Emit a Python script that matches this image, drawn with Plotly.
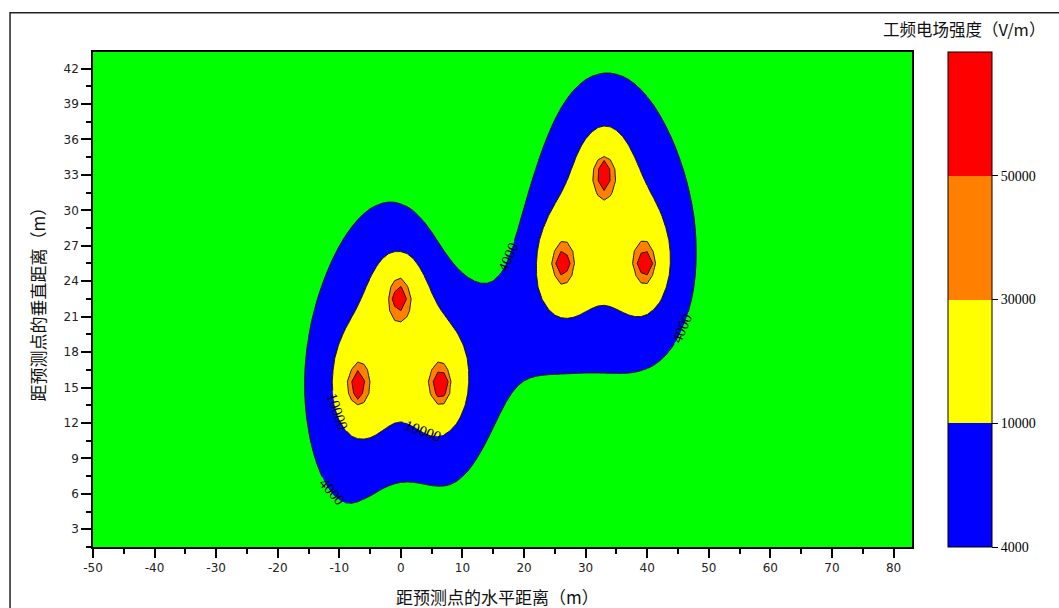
import numpy as np
import plotly.graph_objects as go

# Conductor positions (m) and phase angles (deg) of the two three-phase circuits
conductor_x = [-7.0, -0.2, 6.5, 26.2, 33.0, 39.7]
conductor_y = [15.2, 22.6, 15.2, 25.5, 33.0, 25.5]
conductor_phase = [0, 120, -120, 60, 180, -60]
line_strength = 51000.0   # field strength (V/m) at 1 m from a single conductor

# Contour levels of the power-frequency electric field (V/m)
levels = [4000, 10000, 30000, 50000]
level_labels = ["4000", "10000", "30000", "50000"]
band_colors = ["#0000FF", "#FFFF00", "#FF8000", "#FF0000"]
background_color = "#00FF00"
labelled_levels = [4000, 10000]

x_ticks = [-50, -40, -30, -20, -10, 0, 10, 20, 30, 40, 50, 60, 70, 80]
y_ticks = [3, 6, 9, 12, 15, 18, 21, 24, 27, 30, 33, 36, 39, 42]

# Calculation grid (m); label strips split the grid along x
x_grid = np.arange(-50.0, 83.01, 1.0)
y_grid = np.arange(1.5, 43.51, 1.0)
label_strips = [-50, -5, 12, 27, 40, 83]

X, Y = np.meshgrid(x_grid, y_grid)

# Phasor sum of the line-charge fields, with ground images at y = -h
Ex = np.zeros(X.shape, dtype=complex)
Ey = np.zeros(X.shape, dtype=complex)
for cx, cy, ph in zip(conductor_x, conductor_y, conductor_phase):
    q = line_strength * np.exp(1j * np.deg2rad(ph))
    for sy, sign in ((cy, 1.0), (-cy, -1.0)):
        dx = X - cx
        dy = Y - sy
        r2 = np.maximum(dx * dx + dy * dy, 0.09)
        Ex += sign * q * dx / r2
        Ey += sign * q * dy / r2
field = np.sqrt(np.abs(Ex) ** 2 + np.abs(Ey) ** 2)

line_color = "#141414"
label_font = dict(family="Liberation Serif", size=15, color="black")
fig = go.Figure()

# One filled contour per level, stacked so higher bands sit on top
for lev, col in zip(levels, band_colors):
    fig.add_trace(go.Contour(
        x=x_grid, y=y_grid, z=field,
        autocontour=False,
        contours=dict(start=lev, end=lev, size=1000, coloring="fill",
                      showlines=lev not in labelled_levels),
        colorscale=[[0, "rgba(0,0,0,0)"], [0.5, "rgba(0,0,0,0)"], [0.5, col], [1, col]],
        line=dict(color=line_color, width=1, smoothing=0),
        showscale=False, hoverinfo="skip",
    ))

# Labelled contour lines, drawn strip by strip so each strip carries its own labels
for lev in labelled_levels:
    for a, b in zip(label_strips[:-1], label_strips[1:]):
        cols = (x_grid >= a) & (x_grid <= b)
        fig.add_trace(go.Contour(
            x=x_grid[cols], y=y_grid, z=field[:, cols],
            autocontour=False,
            contours=dict(start=lev, end=lev, size=1000, coloring="none",
                          showlines=True, showlabels=True, labelformat="d",
                          labelfont=label_font),
            line=dict(color=line_color, width=1, smoothing=0),
            showscale=False, hoverinfo="skip",
        ))

# Discrete colour bar for the bands
n = len(band_colors)
cb_scale = []
for i, c in enumerate(band_colors):
    cb_scale += [[i / n, c], [(i + 1) / n, c]]
fig.add_trace(go.Scatter(
    x=[x_grid[0]], y=[y_grid[0]], mode="markers", hoverinfo="skip",
    marker=dict(size=1, opacity=0, color=[0], cmin=0, cmax=n, colorscale=cb_scale,
                showscale=True,
                colorbar=dict(thickness=44, thicknessmode="pixels", len=1, lenmode="fraction",
                              x=1.044, xanchor="left", y=0.5, yanchor="middle",
                              xpad=0, ypad=0, outlinewidth=1, outlinecolor="black",
                              tickmode="array", tickvals=list(range(n)), ticktext=level_labels,
                              ticks="outside", ticklen=6, tickwidth=1, tickcolor="black",
                              tickfont=dict(family="Liberation Serif", size=14, color="black"))),
))

axis_font = dict(family="DejaVu Sans", size=12, color="#222222")
fig.update_xaxes(range=[-50, 83], tickmode="array", tickvals=x_ticks,
                 ticktext=[str(v) for v in x_ticks], ticks="outside", ticklen=9,
                 tickwidth=1.5, tickcolor="black", tickfont=axis_font,
                 minor=dict(ticks="outside", tick0=0, dtick=5, ticklen=5, tickwidth=1.5,
                            tickcolor="black"),
                 showline=True, linecolor="black", linewidth=1.5, mirror=True,
                 showgrid=False, zeroline=False)
fig.update_yaxes(range=[1.5, 43.4], tickmode="array", tickvals=y_ticks,
                 ticktext=[str(v) for v in y_ticks], ticks="outside", ticklen=10,
                 tickwidth=1.5, tickcolor="black", tickfont=axis_font,
                 minor=dict(ticks="outside", tick0=0, dtick=1.5, ticklen=5, tickwidth=1.5,
                            tickcolor="black"),
                 showline=True, linecolor="black", linewidth=1.5, mirror=True,
                 showgrid=False, zeroline=False)

cjk = "Noto Sans CJK SC"
fig.update_layout(
    width=1059, height=608,
    margin=dict(l=93, r=147, t=52, b=61),
    paper_bgcolor="white", plot_bgcolor=background_color,
    showlegend=False,
    annotations=[
        dict(text="距预测点的水平距离（m）", xref="paper", yref="paper", x=0.4933, y=-0.1004,
             xanchor="center", yanchor="middle", showarrow=False,
             font=dict(family=cjk, size=17, color="#111111")),
        dict(text="距预测点的垂直距离（m）", xref="paper", yref="paper", x=-0.0672, y=0.5,
             xanchor="center", yanchor="middle", textangle=-90, showarrow=False,
             font=dict(family=cjk, size=17, color="#111111")),
        dict(text="工频电场强度（V/m）", xref="paper", yref="paper", x=1.1648, y=1.047,
             xanchor="right", yanchor="middle", showarrow=False,
             font=dict(family=cjk, size=16.5, color="#111111")),
    ],
    shapes=[
        dict(type="rect", xref="paper", yref="paper", x0=-0.1013, y0=-0.3, x1=1.3, y1=1.0794,
             line=dict(color="#222222", width=1.5), layer="above"),
    ],
)

fig.write_html("out.html")
